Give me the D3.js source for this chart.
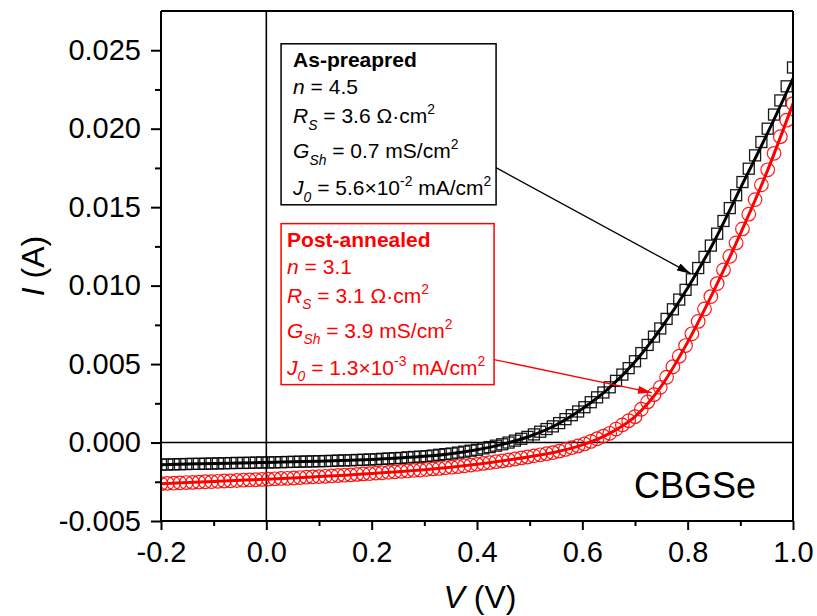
<!DOCTYPE html>
<html>
<head>
<meta charset="utf-8">
<script src="https://cdn.jsdelivr.net/npm/d3@7"></script>
<style>
  html, body { margin: 0; padding: 0; background: #fff; }
  svg { display: block; }
  text { font-family: Arial, "Liberation Sans", sans-serif; }
</style>
</head>
<body>
<svg id="chart" width="817" height="616"></svg>
<script>
// Measured voltage sweep (V)
const voltage = [
  -0.200, -0.188, -0.176, -0.164, -0.152, -0.140, -0.128, -0.116, -0.104, -0.092,
  -0.080, -0.068, -0.056, -0.044, -0.032, -0.020, -0.008, 0.004, 0.016, 0.028,
  0.040, 0.052, 0.064, 0.076, 0.088, 0.100, 0.112, 0.124, 0.136, 0.148,
  0.160, 0.172, 0.184, 0.196, 0.208, 0.220, 0.232, 0.244, 0.256, 0.268,
  0.280, 0.292, 0.304, 0.316, 0.328, 0.340, 0.352, 0.364, 0.376, 0.388,
  0.400, 0.412, 0.424, 0.436, 0.448, 0.460, 0.472, 0.484, 0.496, 0.508,
  0.520, 0.532, 0.544, 0.556, 0.568, 0.580, 0.592, 0.604, 0.616, 0.628,
  0.640, 0.652, 0.664, 0.676, 0.688, 0.700, 0.712, 0.724, 0.736, 0.748,
  0.760, 0.772, 0.784, 0.796, 0.808, 0.820, 0.832, 0.844, 0.856, 0.868,
  0.880, 0.892, 0.904, 0.916, 0.928, 0.940, 0.952, 0.964, 0.976, 0.988, 1.000
];

// Measured current, as-prepared device (A)
const asPreparedI = [
  -0.00140, -0.00140, -0.00139, -0.00138, -0.00137, -0.00136, -0.00136, -0.00135, -0.00134, -0.00133,
  -0.00132, -0.00131, -0.00130, -0.00130, -0.00129, -0.00128, -0.00127, -0.00127, -0.00126, -0.00125,
  -0.00124, -0.00123, -0.00122, -0.00121, -0.00120, -0.00119, -0.00118, -0.00117, -0.00115, -0.00114,
  -0.00113, -0.00111, -0.00110, -0.00108, -0.00107, -0.00104, -0.00102, -0.00100, -0.00098, -0.00095,
  -0.00092, -0.00090, -0.00087, -0.00083, -0.00078, -0.00074, -0.00070, -0.00064, -0.00058, -0.00052,
  -0.00046, -0.00037, -0.00029, -0.00020, -0.00011, 0.00000, 0.00012, 0.00024, 0.00036, 0.00052,
  0.00069, 0.00086, 0.00103, 0.00124, 0.00149, 0.00174, 0.00198, 0.00225, 0.00257, 0.00288,
  0.00319, 0.00352, 0.00393, 0.00433, 0.00474, 0.00518, 0.00570, 0.00622, 0.00675, 0.00727,
  0.00788, 0.00849, 0.00911, 0.00973, 0.01040, 0.01112, 0.01183, 0.01255, 0.01331, 0.01412,
  0.01494, 0.01576, 0.01660, 0.01745, 0.01830, 0.01915, 0.02000, 0.02090, 0.02180, 0.02270, 0.02390
];

// Measured current, post-annealed device (A)
const postAnnealedI = [
  -0.00262, -0.00260, -0.00259, -0.00257, -0.00255, -0.00254, -0.00252, -0.00250, -0.00249, -0.00247,
  -0.00245, -0.00244, -0.00242, -0.00240, -0.00238, -0.00237, -0.00235, -0.00233, -0.00231, -0.00229,
  -0.00228, -0.00226, -0.00223, -0.00221, -0.00219, -0.00217, -0.00215, -0.00213, -0.00210, -0.00208,
  -0.00206, -0.00203, -0.00200, -0.00198, -0.00195, -0.00193, -0.00190, -0.00187, -0.00184, -0.00181,
  -0.00178, -0.00175, -0.00172, -0.00168, -0.00165, -0.00161, -0.00157, -0.00153, -0.00148, -0.00144,
  -0.00139, -0.00133, -0.00128, -0.00122, -0.00117, -0.00111, -0.00105, -0.00098, -0.00092, -0.00085,
  -0.00078, -0.00071, -0.00064, -0.00055, -0.00044, -0.00033, -0.00022, -0.00009, 0.00007, 0.00024,
  0.00041, 0.00059, 0.00086, 0.00112, 0.00139, 0.00165, 0.00212, 0.00259, 0.00305, 0.00352,
  0.00416, 0.00483, 0.00550, 0.00618, 0.00693, 0.00772, 0.00851, 0.00930, 0.01013, 0.01100,
  0.01186, 0.01272, 0.01361, 0.01455, 0.01548, 0.01642, 0.01738, 0.01843, 0.01949, 0.02054, 0.02160
];

// Diode-model fit curves
const fitVoltage = [
  -0.20, -0.15, -0.10, -0.05, 0.00, 0.05, 0.10, 0.15, 0.20, 0.25, 0.30, 0.35, 0.40,
  0.45, 0.50, 0.55, 0.60, 0.65, 0.70, 0.75, 0.80, 0.85, 0.90, 0.95, 1.00
];
const asPreparedFit = [
  -0.00141, -0.00137, -0.00134, -0.00130, -0.00127, -0.00123, -0.00119, -0.00114, -0.00108,
  -0.00099, -0.00088, -0.00071, -0.00046, -0.00010, 0.00040, 0.00112, 0.00215, 0.00345,
  0.00515, 0.00730, 0.00985, 0.01280, 0.01620, 0.01960, 0.02320
];
const postAnnealedFit = [
  -0.00262, -0.00255, -0.00248, -0.00241, -0.00234, -0.00226, -0.00217, -0.00208, -0.00197,
  -0.00186, -0.00173, -0.00158, -0.00139, -0.00116, -0.00090, -0.00060, -0.00015, 0.00055,
  0.00165, 0.00360, 0.00640, 0.00970, 0.01330, 0.01720, 0.02160
];

// Fit parameters shown in the annotation boxes
const sampleNames = ["As-preapred", "Post-annealed"];
const idealityN = ["4.5", "3.1"];
const seriesRs = ["3.6", "3.1"];
const shuntGsh = ["0.7", "3.9"];
const satJ0 = ["5.6", "1.3"];
const satJ0Exp = ["-2", "-3"];
const seriesColors = ["#000000", "#ff0000"];

// Axis ticks
const xTicks = [-0.2, 0.0, 0.2, 0.4, 0.6, 0.8, 1.0];
const xMinorTicks = [-0.1, 0.1, 0.3, 0.5, 0.7, 0.9];
const yTicks = [-0.005, 0.000, 0.005, 0.010, 0.015, 0.020, 0.025];
const yMinorTicks = [-0.0025, 0.0025, 0.0075, 0.0125, 0.0175, 0.0225];

// Annotation anchors (data units): box top-left corner and arrow start / tip
const boxAnchors = [[0.028, 0.02541], [0.028, 0.01395]];
const arrowStarts = [[0.436, 0.01752], [0.432, 0.00529]];
const arrowTips = [[0.806, 0.01076], [0.732, 0.00318]];

const svg = d3.select("#chart");
const plotLeft = 161, plotRight = 793, plotTop = 11, plotBottom = 521;

const x = d3.scaleLinear().domain([-0.2, 1.0]).range([plotLeft, plotRight]);
const y = d3.scaleLinear().domain([-0.005, 0.0275]).range([plotBottom, plotTop]);

const defs = svg.append("defs");
defs.append("clipPath").attr("id", "plotClip")
  .append("rect").attr("x", plotLeft).attr("y", plotTop)
  .attr("width", plotRight - plotLeft).attr("height", plotBottom - plotTop);

// Zero reference lines
svg.append("line").attr("x1", plotLeft).attr("x2", plotRight)
  .attr("y1", y(0)).attr("y2", y(0)).attr("stroke", "#000").attr("stroke-width", 1.6);
svg.append("line").attr("x1", x(0)).attr("x2", x(0))
  .attr("y1", plotTop).attr("y2", plotBottom).attr("stroke", "#000").attr("stroke-width", 1.6);

const plot = svg.append("g").attr("clip-path", "url(#plotClip)");

const fitLine = d3.line()
  .x((d, i) => x(fitVoltage[i]))
  .y(d => y(d))
  .curve(d3.curveMonotoneX);

// As-prepared: open squares + fit
const sq = 11;
plot.append("g").selectAll("rect").data(asPreparedI).join("rect")
  .attr("x", (d, i) => x(voltage[i]) - sq / 2)
  .attr("y", d => y(d) - sq / 2)
  .attr("width", sq).attr("height", sq)
  .attr("fill", "none").attr("stroke", seriesColors[0]).attr("stroke-width", 1.3)
  .attr("stroke-opacity", 0.9);
plot.append("path").datum(asPreparedFit).attr("d", fitLine)
  .attr("fill", "none").attr("stroke", seriesColors[0]).attr("stroke-width", 3);

// Post-annealed: open circles + fit
plot.append("g").selectAll("circle").data(postAnnealedI).join("circle")
  .attr("cx", (d, i) => x(voltage[i]))
  .attr("cy", d => y(d))
  .attr("r", 6.8)
  .attr("fill", "none").attr("stroke", seriesColors[1]).attr("stroke-width", 1.2)
  .attr("stroke-opacity", 0.9);
plot.append("path").datum(postAnnealedFit).attr("d", fitLine)
  .attr("fill", "none").attr("stroke", seriesColors[1]).attr("stroke-width", 3);

// Frame
svg.append("line").attr("x1", plotLeft).attr("x2", plotRight).attr("y1", plotTop).attr("y2", plotTop)
  .attr("stroke", "#000").attr("stroke-width", 2);
svg.append("line").attr("x1", plotRight).attr("x2", plotRight).attr("y1", plotTop).attr("y2", plotBottom)
  .attr("stroke", "#000").attr("stroke-width", 2);

// Axes
const fmtX = d => d.toFixed(1);
const fmtY = d => d.toFixed(3);

const xAxis = svg.append("g").attr("transform", `translate(0,${plotBottom})`)
  .call(d3.axisBottom(x).tickValues(xTicks).tickFormat(fmtX).tickSize(9).tickSizeOuter(0).tickPadding(11));
svg.append("g").attr("transform", `translate(0,${plotBottom})`)
  .call(d3.axisBottom(x).tickValues(xMinorTicks).tickFormat("").tickSize(5).tickSizeOuter(0))
  .select(".domain").remove();

const yAxis = svg.append("g").attr("transform", `translate(${plotLeft},0)`)
  .call(d3.axisLeft(y).tickValues(yTicks).tickFormat(fmtY).tickSize(10).tickSizeOuter(0).tickPadding(10));
svg.append("g").attr("transform", `translate(${plotLeft},0)`)
  .call(d3.axisLeft(y).tickValues(yMinorTicks).tickFormat("").tickSize(6).tickSizeOuter(0))
  .select(".domain").remove();

svg.selectAll(".domain").attr("stroke", "#000").attr("stroke-width", 2);
svg.selectAll(".tick line").attr("stroke", "#000").attr("stroke-width", 2);
xAxis.selectAll("text").attr("font-size", 29).attr("fill", "#000")
  .attr("font-family", "Arial, 'Liberation Sans', sans-serif");
yAxis.selectAll("text").attr("font-size", 29).attr("fill", "#000")
  .attr("font-family", "Arial, 'Liberation Sans', sans-serif");
// Axis lines span the whole frame
yAxis.select(".domain").attr("d", `M0,${plotBottom}V${plotTop}`);
xAxis.select(".domain").attr("d", `M${plotLeft},0H${plotRight}`);

// Axis titles
const xTitle = svg.append("text")
  .attr("x", (plotLeft + plotRight) / 2 + 3).attr("y", 608)
  .attr("text-anchor", "middle").attr("font-size", 32).attr("fill", "#000");
xTitle.append("tspan").attr("font-style", "italic").text("V");
xTitle.append("tspan").text(" (V)");

const yTitle = svg.append("text")
  .attr("transform", `translate(44,${(plotTop + plotBottom) / 2}) rotate(-90)`)
  .attr("text-anchor", "middle").attr("font-size", 32).attr("fill", "#000");
yTitle.append("tspan").attr("font-style", "italic").text("I");
yTitle.append("tspan").text(" (A)");

// Sample label
svg.append("text").attr("x", 756).attr("y", 498).attr("text-anchor", "end")
  .attr("font-size", 36).attr("fill", "#000").text("CBGSe");

// Rich text helper: parts with italic / bold / subscript / superscript
function richText(g, x0, y0, parts, size, color) {
  const t = g.append("text").attr("x", x0).attr("y", y0)
    .attr("font-size", size).attr("fill", color);
  let shift = 0;
  parts.forEach(p => {
    const target = p.sub ? size * 0.32 : p.sup ? -size * 0.42 : 0;
    const s = t.append("tspan").attr("dy", target - shift).text(p.t);
    shift = target;
    if (p.sub || p.sup) s.attr("font-size", size * 0.66);
    if (p.i) s.attr("font-style", "italic");
    if (p.b) s.attr("font-weight", "bold");
  });
  return t;
}

// Arrow heads
seriesColors.forEach((c, k) => {
  defs.append("marker").attr("id", "arrow" + k)
    .attr("viewBox", "0 0 14 8").attr("refX", 14).attr("refY", 4)
    .attr("markerWidth", 14).attr("markerHeight", 8)
    .attr("markerUnits", "userSpaceOnUse").attr("orient", "auto")
    .append("path").attr("d", "M0,0L14,4L0,8Z").attr("fill", c);
});

// Annotation boxes
const boxWidths = [215, 213];
const boxHeight = 161;
const textInset = [12, 6];
const lineOffsets = [23, 50, 79, 114, 151];

sampleNames.forEach((name, k) => {
  const c = seriesColors[k];
  const bx = x(boxAnchors[k][0]), by = y(boxAnchors[k][1]);
  const g = svg.append("g");
  g.append("rect").attr("x", bx).attr("y", by)
    .attr("width", boxWidths[k]).attr("height", boxHeight)
    .attr("fill", "#fff").attr("stroke", c).attr("stroke-width", 1.5);
  const tx = bx + textInset[k];
  const rows = [
    [{ t: name, b: true }],
    [{ t: "n", i: true }, { t: " = " + idealityN[k] }],
    [{ t: "R", i: true }, { t: "S", i: true, sub: true }, { t: " = " + seriesRs[k] + " \u03A9\u00B7cm" }, { t: "2", sup: true }],
    [{ t: "G", i: true }, { t: "Sh", i: true, sub: true }, { t: " = " + shuntGsh[k] + " mS/cm" }, { t: "2", sup: true }],
    [{ t: "J", i: true }, { t: "0", i: true, sub: true }, { t: " = " + satJ0[k] + "\u00D710" }, { t: satJ0Exp[k], sup: true },
     { t: " mA/cm" }, { t: "2", sup: true }]
  ];
  rows.forEach((parts, r) => richText(g, tx, by + lineOffsets[r], parts, 21, c));

  svg.append("line")
    .attr("x1", x(arrowStarts[k][0])).attr("y1", y(arrowStarts[k][1]))
    .attr("x2", x(arrowTips[k][0])).attr("y2", y(arrowTips[k][1]))
    .attr("stroke", c).attr("stroke-width", 1.3)
    .attr("marker-end", `url(#arrow${k})`);
});
</script>
</body>
</html>
